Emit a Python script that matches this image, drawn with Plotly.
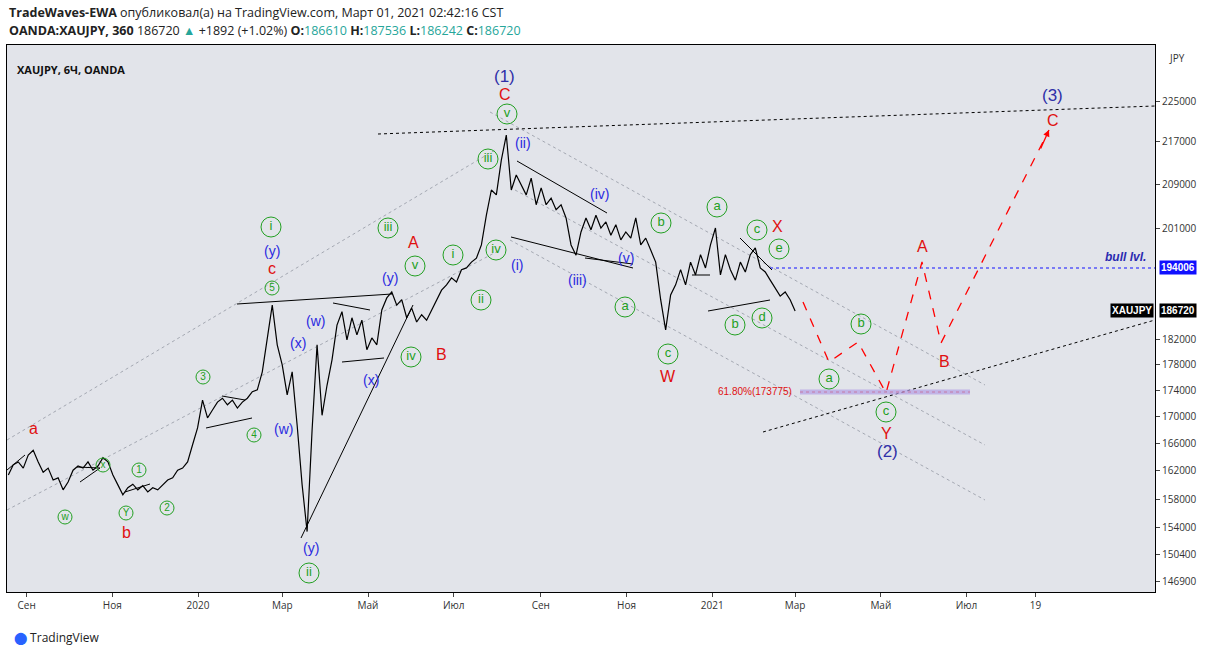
import math
import numpy as np
import pandas as pd
import plotly.graph_objects as go

# ---- data ----
prices = [161400,162900,163300,162400,164300,165000,163300,161800,162400,160700,
          161000,159300,160400,162100,162700,162400,163300,162100,162700,163900,
          163300,161400,160000,158600,159600,160100,159300,159900,159000,159600,
          159300,160000,160700,161000,162100,162400,163300,165800,168300,172500,
          169800,171000,172200,172800,171800,172500,171300,172200,172800,173800,
          174100,176900,182000,187700,181200,178000,173300,176900,168700,160000,
          153500,168000,181200,170200,174800,178800,184400,186600,182000,185600,
          182800,185200,180400,182300,181200,186900,188900,189900,187700,188600,
          185600,187200,184900,186100,185200,186900,188600,190200,191100,192300,
          191600,193700,194000,195000,195700,198000,203300,207900,207000,213500,
          218300,207900,210700,208800,207000,210100,205200,208300,205200,206400,
          204300,205200,202800,198000,196200,200300,202800,200700,203300,201000,
          202100,199700,201600,198900,200300,199200,202800,198000,199200,197100,
          195000,188600,183600,189400,191100,193700,191100,195000,192800,196300,
          194000,198000,201000,192800,196300,193700,191900,195000,193300,196300,
          197500,194000,193300,191900,190600,189200,189900,188600,186720]
start_date = "2019-08-19"
end_date = "2021-03-01"
tick_dates = ["2019-09-01","2019-11-01","2020-01-01","2020-03-01","2020-05-01","2020-07-01",
              "2020-09-01","2020-11-01","2021-01-01","2021-03-01","2021-05-01","2021-07-01","2021-08-19"]
tick_texts = ["Сен","Ноя","2020","Мар","Май","Июл","Сен","Ноя","2021","Мар","Май","Июл","19"]
price_ticks = [225000,217000,209000,201000,182000,178000,174000,170000,166000,162000,158000,154000,150400,146900]
bull_level = 194006
last_close = 186720
fib_level = 173775

dates = pd.date_range(start_date, end_date, periods=len(prices))

# ---- pixel helpers for placing annotations/lines ----
T0 = pd.Timestamp("2020-01-01")
def X(px):
    return T0 + pd.Timedelta(days=(px - 198) / 1.405)
def P(py):
    return 225000 * math.exp((101 - py) / 1126)
def LP(py):
    return math.log10(P(py))

fig = go.Figure()

def line(pts, color="black", width=1, dash="solid"):
    fig.add_trace(go.Scatter(x=[X(a) for a, b in pts], y=[P(b) for a, b in pts], mode="lines",
                             line=dict(color=color, width=width, dash=dash), hoverinfo="skip", showlegend=False))

# gray channel lines
for pts in [[(490,112),(985,385)],[(515,190),(985,445)],[(510,240),(985,500)],
            [(7,440),(495,150)],[(7,510),(500,250)]]:
    line(pts, color="#a4a8b2", width=1, dash="dot")
# black dotted
line([(378,134),(1155,106)], dash="dot")
line([(763,432),(1155,320)], dash="dot")
# fib band
line([(800,392),(970,392)], color="rgba(180,160,230,0.7)", width=5)
line([(800,392),(970,392)], color="rgba(200,80,120,0.6)", width=1, dash="dot")
# bull level
line([(770,268),(1155,268)], color="#1010ff", width=1.2, dash="dot")
# solid structure lines
for pts in [[(237,304),(392,294)],[(301,538),(413,305)],[(342,362),(384,358)],[(333,303),(370,310)],
            [(517,161),(607,213)],[(511,237),(633,268)],[(206,428),(252,418)],[(222,396),(245,400)],
            [(708,311),(770,300)],[(740,238),(772,270)],[(7,470),(25,455)],[(80,482),(100,468)],
            [(77,467),(100,468)],[(125,492),(150,484)],[(585,258),(633,264)],[(692,275),(710,275)]]:
    line(pts, width=1)

# price
fig.add_trace(go.Scatter(x=dates, y=prices, mode="lines", line=dict(color="black", width=1.2),
                         showlegend=False))

# red projection
proj = [(803,302),(829,362),(858,342),(886,393),(922,262),(941,343),(1049,130)]
line(proj, color="red", width=1.3, dash="dash")

# circled labels
circ = [("i",271,227,20),("5",272,288,14),("3",203,377,14),("4",254,435,14),("x",103,465,14),
        ("1",139,470,14),("w",65,517,14),("Y",126,513,14),("2",167,508,14),("iii",388,228,20),
        ("v",415,266,20),("i",453,255,20),("ii",481,300,20),("iv",411,357,20),("iii",488,159,20),
        ("v",507,114,20),("iv",496,250,20),("a",625,307,20),("b",661,223,20),("c",668,354,20),
        ("a",717,207,20),("c",757,230,20),("e",779,249,20),("b",735,325,20),("d",762,318,20),
        ("b",861,324,20),("a",829,379,20),("c",886,412,20),("ii",309,573,20)]
for t, a, b, s in circ:
    fig.add_trace(go.Scatter(x=[X(a)], y=[P(b)], mode="markers+text", text=[t],
                             textposition="middle center",
                             textfont=dict(color="#22a022", size=13 if s > 15 else 10, family="Arial"),
                             marker=dict(symbol="circle-open", size=s, color="#22a022", line=dict(width=1)),
                             showlegend=False, hoverinfo="skip"))

def ann(t, a, b, color, size=14, **kw):
    fig.add_annotation(x=X(a), y=LP(b), text=t, showarrow=False,
                       font=dict(color=color, size=size, family="Arial"), **kw)

blue = "#2a2ae0"
navy = "#2f2fa8"
for t, a, b in [("(ii)",523,143),("(iv)",599,194),("(i)",517,265),("(iii)",577,280),("(v)",626,258),
                ("(y)",272,251),("(w)",315,321),("(x)",298,343),("(w)",283,429),("(y)",390,278),
                ("(x)",371,380),("(y)",311,548)]:
    ann(t, a, b, blue, 14)
for t, a, b in [("(1)",504,76),("(3)",1052,95),("(2)",887,451)]:
    ann(t, a, b, navy, 17)
for t, a, b in [("C",505,94),("A",413,242),("B",441,354),("c",272,268),("a",33,428),("b",126,532),
                ("W",668,376),("X",777,226),("Y",886,433),("A",922,246),("B",944,361),("C",1053,120)]:
    ann(t, a, b, "#e01010", 16)
ann("61.80%(173775)", 755, 391, "#e01010", 10)
ann("<i><b>bull lvl.</b></i>", 1125, 257, "#2a2ab0", 12)

fig.add_annotation(x=X(1049), y=LP(130), ax=X(1040), ay=LP(150), xref="x", yref="y", axref="x", ayref="y",
                   showarrow=True, arrowhead=2, arrowcolor="red", arrowsize=1, arrowwidth=1.3, text="")

# price labels on axis
fig.add_annotation(x=1.0, xref="paper", y=math.log10(bull_level), yref="y", text="<b>%d</b>" % bull_level,
                   showarrow=False, xanchor="left", bgcolor="#1010ff", font=dict(color="white", size=10, family="Arial"),
                   xshift=4)
fig.add_annotation(x=1.0, xref="paper", y=math.log10(last_close), yref="y", text="<b>%d</b>" % last_close,
                   showarrow=False, xanchor="left", bgcolor="black", font=dict(color="white", size=10, family="Arial"),
                   xshift=4)
fig.add_annotation(x=1.0, xref="paper", y=math.log10(last_close), yref="y", text="<b>XAUJPY</b>",
                   showarrow=False, xanchor="right", bgcolor="black", font=dict(color="white", size=10, family="Arial"),
                   xshift=-1)
fig.add_annotation(x=1.0, xref="paper", y=LP(58), yref="y", text="JPY", showarrow=False, xanchor="left",
                   font=dict(color="#333", size=10), xshift=12)

# header texts
fig.add_annotation(xref="paper", yref="paper", x=0.0, y=1.0, yshift=43, xanchor="left", showarrow=False,
                   text="<b>TradeWaves-EWA</b> опубликовал(а) на TradingView.com, Март 01, 2021 02:42:16 CST",
                   font=dict(size=12.5, color="#222", family="Open Sans"), xshift=0)
fig.add_annotation(xref="paper", yref="paper", x=0.0, y=1.0, yshift=25, xanchor="left", showarrow=False,
                   text="<b>OANDA:XAUJPY, 360</b> 186720 <span style='color:#26a69a'>▲</span> +1892 (+1.02%) "
                        "<b>O:</b><span style='color:#26a69a'>186610</span> <b>H:</b><span style='color:#26a69a'>187536</span> "
                        "<b>L:</b><span style='color:#26a69a'>186242</span> <b>C:</b><span style='color:#26a69a'>186720</span>",
                   font=dict(size=12.5, color="#222", family="Open Sans"), xshift=0)
fig.add_annotation(xref="paper", yref="paper", x=0.0, y=1.0, yshift=-15, xanchor="left", showarrow=False,
                   text="<b>XAUJPY, 6Ч, OANDA</b>", font=dict(size=11, color="#111", family="Open Sans"), xshift=8)
fig.add_annotation(xref="paper", yref="paper", x=0.0, y=0.0, yshift=-56, xanchor="left", showarrow=False,
                   text="<span style='color:#2962ff'>⬤</span> TradingView", font=dict(size=12, color="#222", family="Open Sans"),
                   xshift=5)

ylo, yhi = math.log10(P(592)), math.log10(P(45))
fig.update_layout(
    width=1212, height=657, margin=dict(l=7, r=57, t=45, b=65),
    paper_bgcolor="white", plot_bgcolor="#e2e4ea",
    xaxis=dict(range=[X(7), X(1155)], tickvals=tick_dates, ticktext=tick_texts, showgrid=False,
               zeroline=False, ticks="outside", ticklen=4, tickfont=dict(size=10, color="#333"),
               showline=True, linecolor="black", mirror=True),
    yaxis=dict(type="log", range=[ylo, yhi], side="right", tickvals=price_ticks,
               ticktext=[str(v) for v in price_ticks], showgrid=False, zeroline=False,
               ticks="outside", ticklen=4, tickfont=dict(size=10, color="#333"),
               showline=True, linecolor="black", mirror=True),
    showlegend=False,
)
fig.write_html("out.html", config={"displayModeBar": False}, post_script="document.body.style.margin='0';")
